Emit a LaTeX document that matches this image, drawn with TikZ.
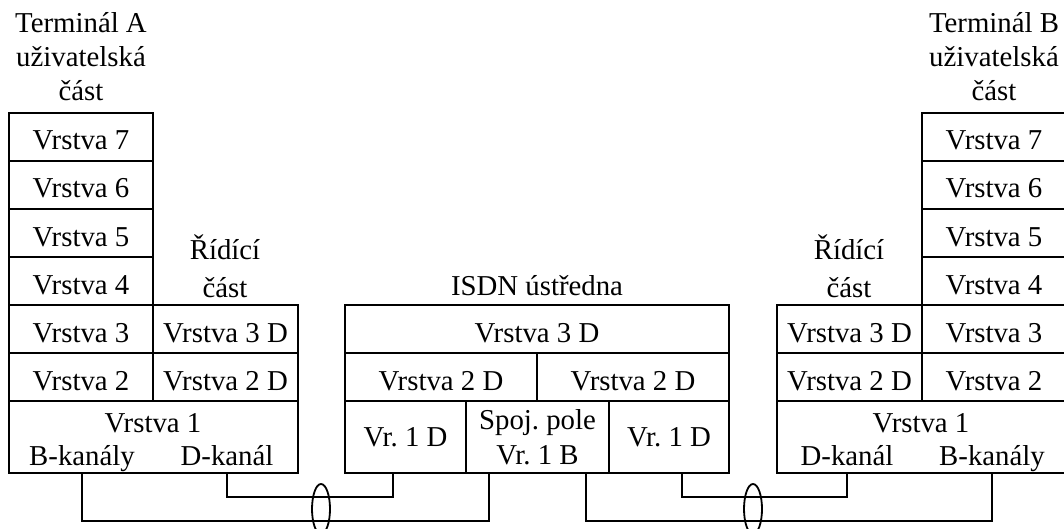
\documentclass[tikz,border=0pt]{standalone}
\usepackage{fontspec}
\setmainfont{Liberation Serif}
\frenchspacing
\usetikzlibrary{shapes.geometric}
\tikzset{
  txt/.style={inner sep=0pt, font=\fontsize{14.4}{17.5}\selectfont, align=center},
  cell/.style={draw, line width=0.65pt, inner sep=0pt, txt},
  rowcell/.style={cell, text height=13pt, text depth=0pt, minimum height=24pt},
  stackcell/.style={rowcell, minimum width=72pt},
  ctrlcell/.style={rowcell, minimum width=72.5pt},
  lowcell/.style={cell, minimum height=36pt},
  wire/.style={line width=0.65pt},
  ring/.style={draw, ellipse, line width=0.9pt, inner sep=0pt, minimum width=9pt, minimum height=25pt},
}
\begin{document}
\begin{tikzpicture}[x=0.5pt, y=-0.5pt]
\useasboundingbox (0,0) rectangle (1064,529);
\fill[white] (0,0) rectangle (1064,529);

% ---------- Terminal A ----------
\node[txt, anchor=base, font=\fontsize{14.4}{17}\selectfont] (tA) at (81,101) {Terminál A\\uživatelská\\část};
\node[stackcell] (a7) at (81,137) {Vrstva 7};
\node[stackcell] (a6) at (81,185) {Vrstva 6};
\node[stackcell] (a5) at (81,233) {Vrstva 5};
\node[stackcell] (a4) at (81,281) {Vrstva 4};
\node[stackcell] (a3) at (81,329) {Vrstva 3};
\node[stackcell] (a2) at (81,377) {Vrstva 2};
\node[txt, anchor=base, font=\fontsize{14.4}{19}\selectfont] (rA) at (225,297) {Řídící\\část};
\node[ctrlcell] (ac3) at (225.5,329) {Vrstva 3 D};
\node[ctrlcell] (ac2) at (225.5,377) {Vrstva 2 D};
\node[lowcell, minimum width=144.5pt] (a1) at (153.5,437) {};
\node[txt, anchor=base] (a1t) at (153,432) {Vrstva 1};
\node[txt, anchor=base] (aB) at (82,465) {B-kanály};
\node[txt, anchor=base] (aD) at (227,465) {D-kanál};

% ---------- ISDN exchange ----------
\node[txt, anchor=base] (sT) at (537,295) {ISDN ústředna};
\node[rowcell, minimum width=192pt] (s3) at (537,329) {Vrstva 3 D};
\node[rowcell, minimum width=96pt] (s2l) at (441,377) {Vrstva 2 D};
\node[rowcell, minimum width=96pt] (s2r) at (633,377) {Vrstva 2 D};
\node[lowcell, minimum width=60.5pt] (s1l) at (405.5,437) {Vr. 1 D};
\node[lowcell, minimum width=71.5pt] (s1m) at (537.5,437) {Spoj. pole\\Vr. 1 B};
\node[lowcell, minimum width=60pt] (s1r) at (669,437) {Vr. 1 D};

% ---------- Terminal B ----------
\node[txt, anchor=base, font=\fontsize{14.4}{17}\selectfont] (tB) at (994,101) {Terminál B\\uživatelská\\část};
\node[stackcell] (b7) at (994,137) {Vrstva 7};
\node[stackcell] (b6) at (994,185) {Vrstva 6};
\node[stackcell] (b5) at (994,233) {Vrstva 5};
\node[stackcell] (b4) at (994,281) {Vrstva 4};
\node[stackcell] (b3) at (994,329) {Vrstva 3};
\node[stackcell] (b2) at (994,377) {Vrstva 2};
\node[txt, anchor=base, font=\fontsize{14.4}{19}\selectfont] (rB) at (849,297) {Řídící\\část};
\node[ctrlcell] (bc3) at (849.5,329) {Vrstva 3 D};
\node[ctrlcell] (bc2) at (849.5,377) {Vrstva 2 D};
\node[lowcell, minimum width=144.5pt] (b1) at (921.5,437) {};
\node[txt, anchor=base] (b1t) at (921,432) {Vrstva 1};
\node[txt, anchor=base] (bD) at (847,465) {D-kanál};
\node[txt, anchor=base] (bB) at (992,465) {B-kanály};

% ---------- ports and wire levels ----------
\coordinate (pDl) at (393,473);
\coordinate (pBl) at (489,473);
\coordinate (pBr) at (586,473);
\coordinate (pDr) at (682,473);
\coordinate (lvD) at (0,497);
\coordinate (lvB) at (0,521);

\draw[wire] (a1.south -| aD) -- (aD |- lvD) -- (pDl |- lvD) -- (pDl);
\draw[wire] (a1.south -| aB) -- (aB |- lvB) -- (pBl |- lvB) -- (pBl);
\draw[wire] (b1.south -| bD) -- (bD |- lvD) -- (pDr |- lvD) -- (pDr);
\draw[wire] (b1.south -| bB) -- (bB |- lvB) -- (pBr |- lvB) -- (pBr);

\node[ring] (e1) at (321,509) {};
\node[ring] (e2) at (753,509) {};
\end{tikzpicture}
\end{document}
